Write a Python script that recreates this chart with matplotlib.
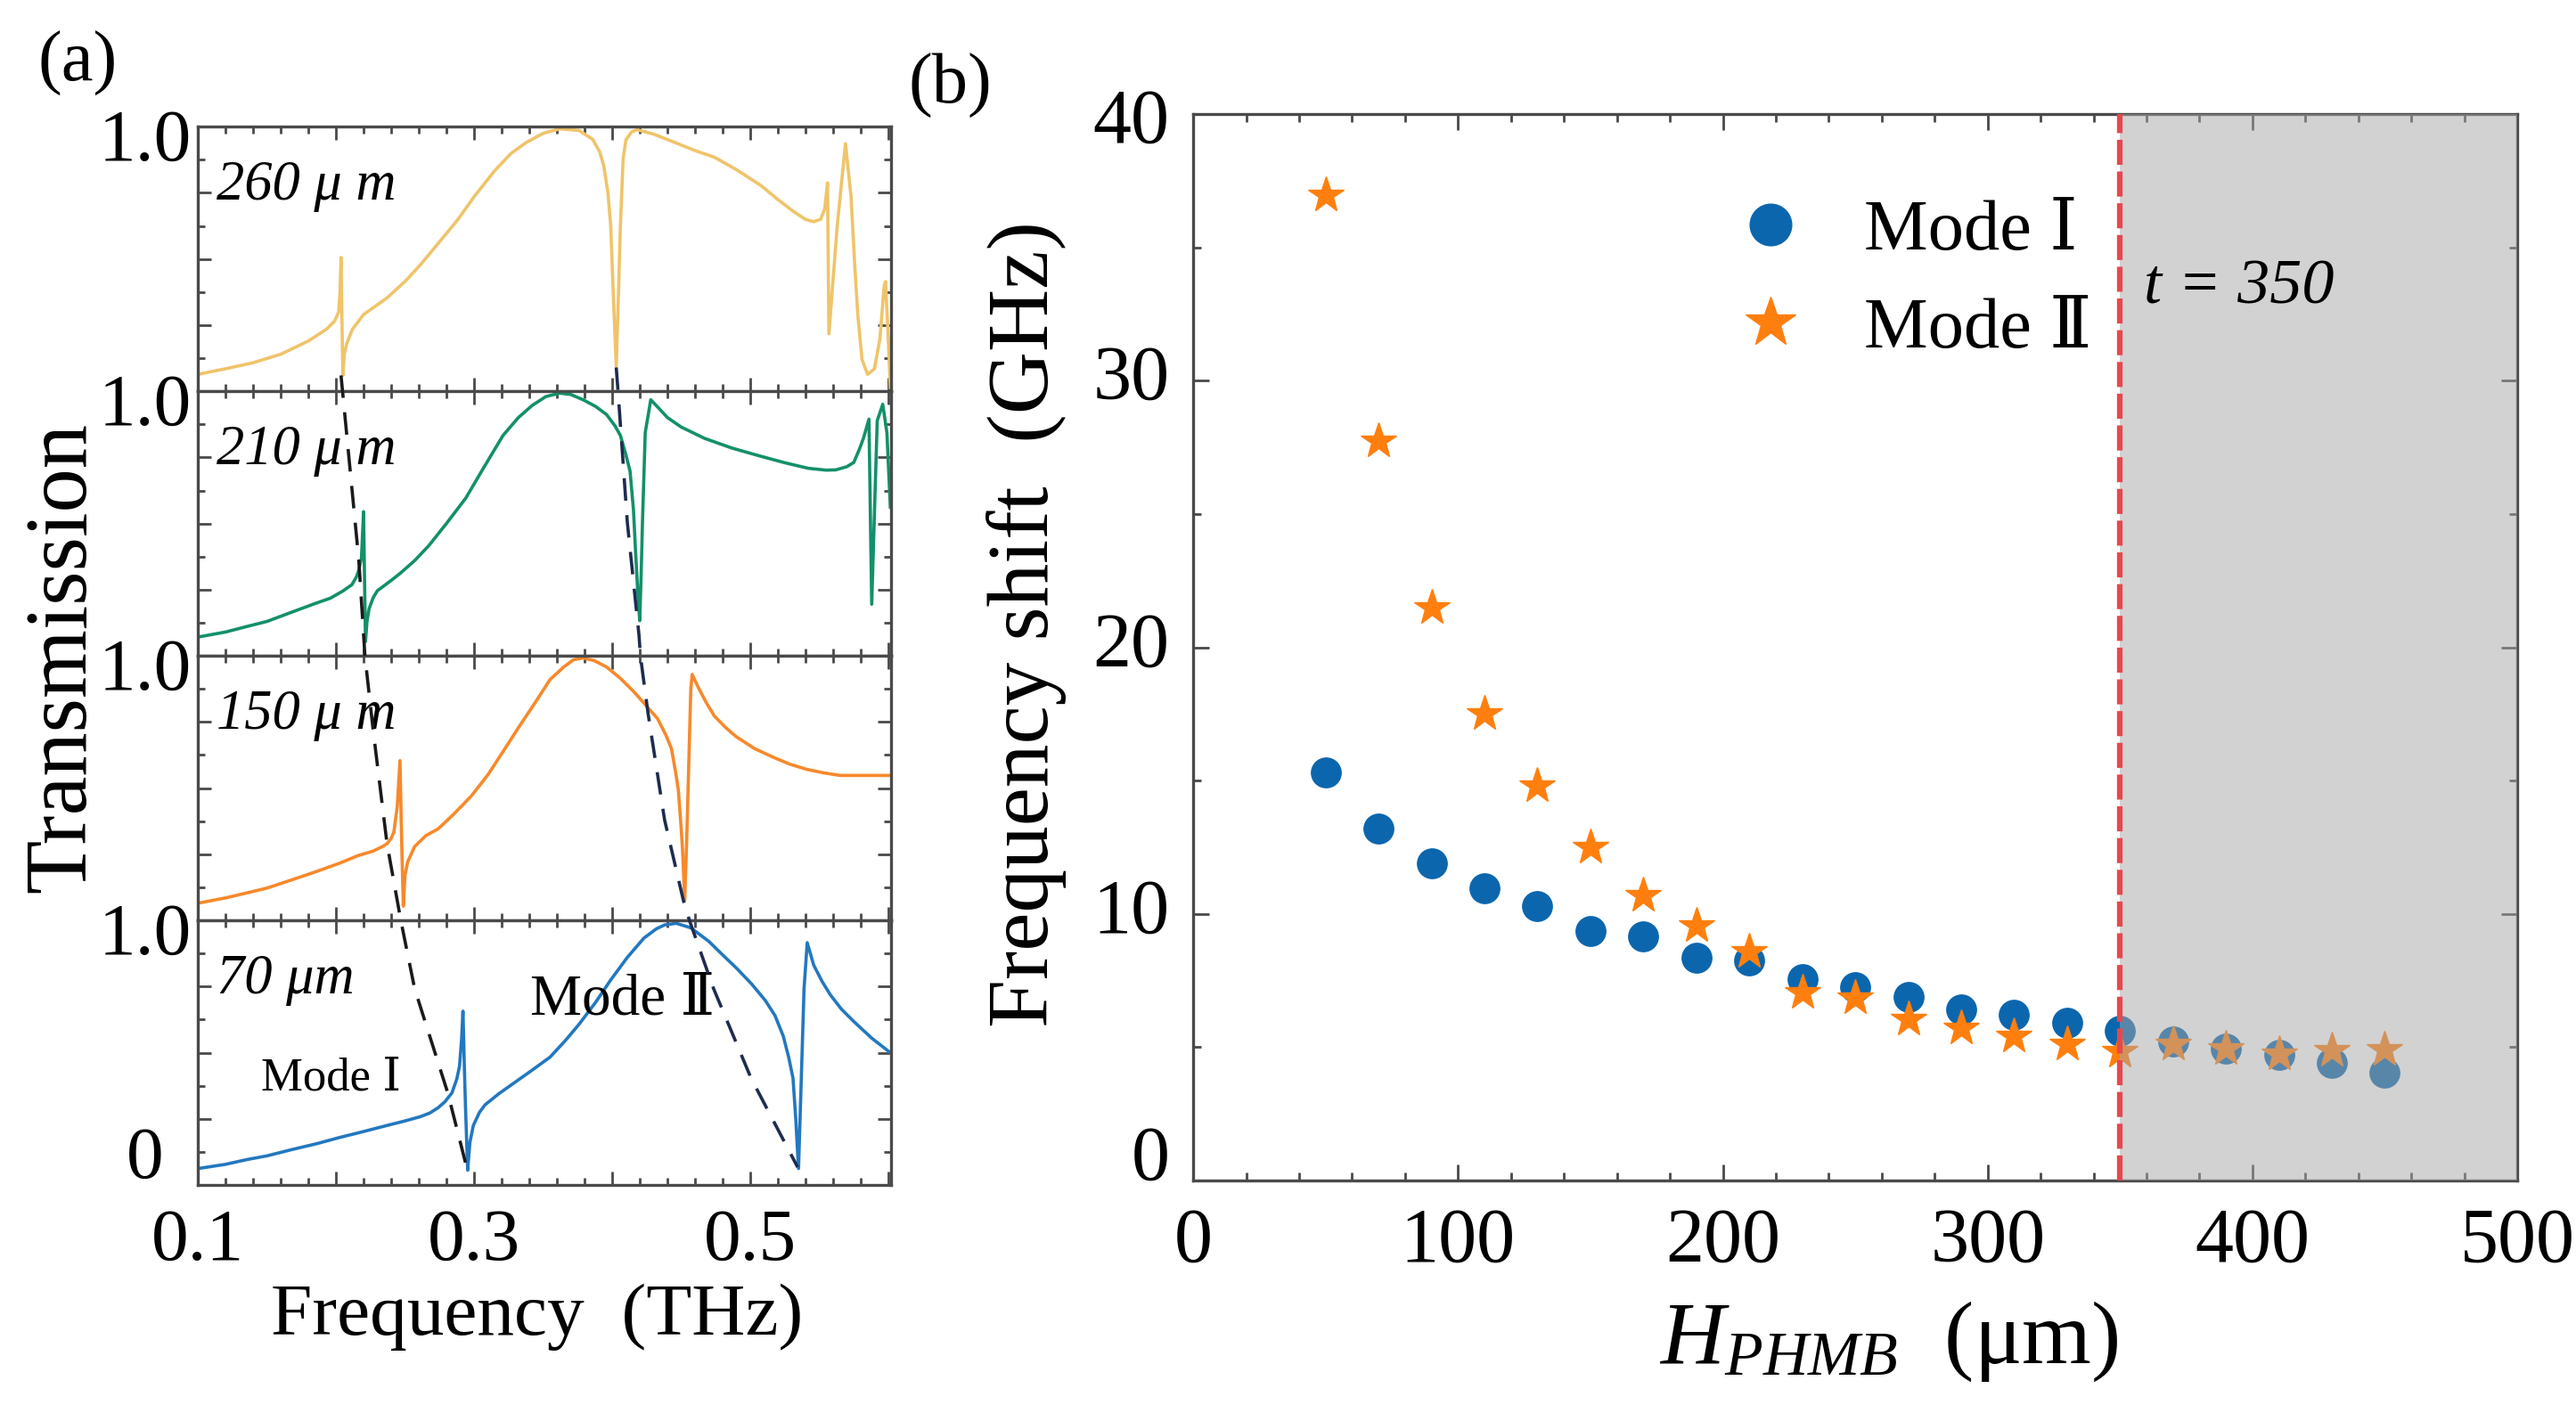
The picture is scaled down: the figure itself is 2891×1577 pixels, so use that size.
import matplotlib
matplotlib.use('Agg')
import matplotlib.pyplot as plt
from matplotlib.ticker import MultipleLocator

plt.rcParams['font.family'] = ['Liberation Serif', 'DejaVu Serif', 'Noto Sans CJK SC']
plt.rcParams['mathtext.fontset'] = 'custom'
plt.rcParams['mathtext.rm'] = 'Liberation Serif'
plt.rcParams['mathtext.it'] = 'Liberation Serif:italic'

# ---- panel (a): transmission spectra ----
f_260 = [0.100, 0.120, 0.140, 0.160, 0.180, 0.193, 0.199, 0.2020, 0.2030, 0.2037, 0.2043, 0.2050,
         0.2060, 0.2080, 0.2120, 0.2200, 0.2370, 0.2500, 0.2610, 0.2750, 0.2880, 0.3000, 0.3150,
         0.3270, 0.3380, 0.3500, 0.3620, 0.3760, 0.3860, 0.3910, 0.3940, 0.3970, 0.3990, 0.4010,
         0.4030, 0.4045, 0.4060, 0.4080, 0.4100, 0.4140, 0.4180, 0.4300, 0.4400, 0.4600, 0.4740,
         0.4900, 0.5080, 0.5200, 0.5310, 0.5400, 0.5460, 0.5510, 0.5540, 0.5560, 0.5570, 0.5630,
         0.5690, 0.5730, 0.5760, 0.5780, 0.5810, 0.5850, 0.5900, 0.5940, 0.5970, 0.5980, 0.6000,
         0.6015]
T_260 = [0.064, 0.085, 0.108, 0.140, 0.190, 0.234, 0.265, 0.300, 0.380, 0.506, 0.300, 0.059,
         0.140, 0.183, 0.235, 0.290, 0.353, 0.415, 0.477, 0.565, 0.647, 0.735, 0.834,
         0.900, 0.941, 0.975, 0.992, 0.986, 0.952, 0.905, 0.851, 0.750, 0.624, 0.350,
         0.093, 0.350, 0.624, 0.880, 0.950, 0.980, 0.989, 0.972, 0.952, 0.910, 0.885,
         0.838, 0.777, 0.725, 0.681, 0.650, 0.641, 0.650, 0.690, 0.788, 0.217, 0.624,
         0.936, 0.738, 0.450, 0.285, 0.120, 0.064, 0.085, 0.200, 0.398, 0.415, 0.200,
         0.014]

f_210 = [0.100, 0.120, 0.1355, 0.150, 0.169, 0.185, 0.196, 0.205, 0.2116, 0.2150, 0.2166, 0.2185,
         0.2200, 0.2207, 0.2214, 0.2225, 0.2240, 0.2270, 0.2300, 0.2400, 0.2470, 0.2570, 0.2670,
         0.2800, 0.2940, 0.3080, 0.3210, 0.3320, 0.3420, 0.3520, 0.3620, 0.3700, 0.3790, 0.3880,
         0.3960, 0.4020, 0.4060, 0.4100, 0.4130, 0.4155, 0.4170, 0.4185, 0.4200, 0.4210, 0.4220,
         0.4240, 0.4280, 0.4340, 0.4400, 0.4500, 0.4670, 0.4870, 0.5080, 0.5250, 0.5420, 0.5550,
         0.5620, 0.5700, 0.5750, 0.5790, 0.5820, 0.5860, 0.5880, 0.5920, 0.5960, 0.5990, 0.6015]
T_210 = [0.071, 0.090, 0.111, 0.130, 0.167, 0.198, 0.218, 0.245, 0.269, 0.300, 0.325, 0.370,
         0.545, 0.300, 0.054, 0.130, 0.178, 0.220, 0.246, 0.285, 0.314, 0.360, 0.415,
         0.500, 0.596, 0.720, 0.833, 0.900, 0.946, 0.980, 0.993, 0.988, 0.968, 0.943,
         0.912, 0.870, 0.833, 0.760, 0.698, 0.550, 0.393, 0.250, 0.133, 0.300, 0.506,
         0.844, 0.968, 0.935, 0.901, 0.865, 0.822, 0.785, 0.754, 0.730, 0.709, 0.702,
         0.703, 0.715, 0.731, 0.780, 0.822, 0.895, 0.195, 0.889, 0.951, 0.844, 0.562]

f_150 = [0.100, 0.120, 0.1355, 0.150, 0.169, 0.186, 0.203, 0.216, 0.227, 0.234, 0.237, 0.2400,
         0.2420, 0.2444, 0.2464, 0.2476, 0.2488, 0.2500, 0.2520, 0.2570, 0.2650, 0.2740, 0.2850,
         0.2980, 0.3100, 0.3210, 0.3330, 0.3450, 0.3550, 0.3650, 0.3720, 0.3790, 0.3870, 0.3960,
         0.4060, 0.4160, 0.4250, 0.4330, 0.4390, 0.4430, 0.4460, 0.4480, 0.4500, 0.4510, 0.4526,
         0.4540, 0.4550, 0.4570, 0.4580, 0.4620, 0.4680, 0.4740, 0.4820, 0.4900, 0.5030, 0.5170,
         0.5290, 0.5410, 0.5530, 0.5650, 0.5800, 0.6015]
T_150 = [0.065, 0.085, 0.104, 0.122, 0.155, 0.185, 0.217, 0.245, 0.262, 0.280, 0.290, 0.310,
         0.335, 0.430, 0.604, 0.300, 0.054, 0.170, 0.222, 0.279, 0.320, 0.346, 0.400,
         0.470, 0.550, 0.638, 0.735, 0.829, 0.910, 0.958, 0.985, 0.992, 0.982, 0.958,
         0.915, 0.863, 0.810, 0.762, 0.700, 0.649, 0.560, 0.492, 0.350, 0.267, 0.076,
         0.300, 0.492, 0.874, 0.930, 0.885, 0.825, 0.773, 0.730, 0.694, 0.650, 0.616,
         0.590, 0.571, 0.558, 0.548, 0.548, 0.548]

f_70 = [0.100, 0.120, 0.1355, 0.150, 0.169, 0.186, 0.203, 0.220, 0.237, 0.250, 0.261, 0.268,
        0.274, 0.279, 0.284, 0.2875, 0.2895, 0.2910, 0.2920, 0.2930, 0.2938, 0.2954, 0.2970,
        0.2995, 0.3040, 0.3080, 0.3180, 0.3280, 0.3410, 0.3550, 0.3660, 0.3760, 0.3880, 0.3990,
        0.4110, 0.4230, 0.4320, 0.4380, 0.4465, 0.4570, 0.4700, 0.4800, 0.4900, 0.5010, 0.5110,
        0.5180, 0.5240, 0.5280, 0.5310, 0.5330, 0.5350, 0.5370, 0.5390, 0.5413, 0.5460, 0.5520,
        0.5580, 0.5660, 0.5750, 0.5880, 0.6015]
T_70 = [0.062, 0.078, 0.096, 0.110, 0.135, 0.156, 0.180, 0.202, 0.225, 0.242, 0.258, 0.272,
        0.292, 0.315, 0.348, 0.400, 0.449, 0.550, 0.657, 0.450, 0.300, 0.056, 0.160,
        0.225, 0.275, 0.303, 0.345, 0.382, 0.430, 0.483, 0.545, 0.607, 0.690, 0.775,
        0.860, 0.933, 0.968, 0.983, 0.989, 0.972, 0.921, 0.870, 0.820, 0.760, 0.697,
        0.640, 0.562, 0.480, 0.404, 0.250, 0.062, 0.400, 0.742, 0.916, 0.831, 0.770,
        0.719, 0.665, 0.618, 0.555, 0.500]

# guide lines through the resonances, y in stacked units (bottom panel = 0..1, top = 3..4)
mode1_f = [0.2037, 0.2048, 0.2166, 0.2210, 0.2270, 0.2370, 0.2470, 0.2570, 0.2810, 0.2950]
mode1_y = [3.06, 3.00, 2.36, 2.00, 1.717, 1.29, 1.00, 0.742, 0.348, 0.06]
mode2_f = [0.4030, 0.4043, 0.4110, 0.4195, 0.4205, 0.4260, 0.4380, 0.4516, 0.4560, 0.4735, 0.5006, 0.5344]
mode2_y = [3.09, 3.00, 2.506, 2.077, 2.00, 1.784, 1.38, 1.076, 1.00, 0.742, 0.404, 0.067]

size_labels = ['260 μ m', '210 μ m', '150 μ m', '70 μm']
curve_colors = ['#efc46a', '#13906a', '#f7892b', '#2378bf']

# ---- panel (b): frequency shift vs H_PHMB ----
H = [50, 70, 90, 110, 130, 150, 170, 190, 210, 230, 250, 270, 290, 310, 330, 350, 370, 390, 410, 430, 450]
shift_mode1 = [15.3, 13.2, 11.9, 10.95, 10.3, 9.35, 9.15, 8.35, 8.25, 7.55, 7.25, 6.9, 6.4, 6.2, 5.9,
               5.6, 5.2, 4.95, 4.7, 4.4, 4.05]
shift_mode2 = [36.95, 27.75, 21.5, 17.5, 14.8, 12.5, 10.7, 9.55, 8.6, 7.05, 6.85, 6.05, 5.7, 5.4, 5.12,
               4.85, 5.1, 4.95, 4.75, 4.87, 4.9]

spine_col = '#4a4a4a'
tick_fs = 60
fig = plt.figure(figsize=(28.91, 15.77), dpi=100)

a_left, a_w, a_bot, a_h = 0.0768, 0.2691, 0.1566, 0.1883
curves = [(f_260, T_260), (f_210, T_210), (f_150, T_150), (f_70, T_70)]
for i, (f, T) in enumerate(curves):
    ax = fig.add_axes([a_left, a_bot + (3 - i) * a_h, a_w, a_h])
    ax.plot(f, T, color=curve_colors[i], lw=2.6)
    ax.set_xlim(0.1, 0.602)
    ax.set_ylim(0, 1)
    ax.set_xticks([0.1, 0.2, 0.3, 0.4, 0.5, 0.6])
    ax.xaxis.set_minor_locator(MultipleLocator(0.02))
    ax.set_yticks([0, 0.25, 0.5, 0.75, 1.0])
    ax.yaxis.set_minor_locator(MultipleLocator(0.125))
    ax.set_yticklabels([])
    if i == 3:
        ax.set_xticklabels(['0.1', '', '0.3', '', '0.5', ''])
    else:
        ax.set_xticklabels([])
    ax.tick_params(which='both', direction='in', top=True, right=True, width=2, color=spine_col,
                   labelsize=tick_fs, pad=19)
    ax.tick_params(which='major', length=11)
    ax.tick_params(which='minor', length=5.5)
    for s in ax.spines.values():
        s.set_color(spine_col)
        s.set_linewidth(2.4)
    ax.annotate('1.0', xy=(0, 1.0), xycoords=ax.get_yaxis_transform(), xytext=(-43, -13),
                textcoords='offset points', ha='center', va='center', fontsize=tick_fs)
    if i == 3:
        ax.annotate('0', xy=(0, 0.0), xycoords=ax.get_yaxis_transform(), xytext=(-43, 20),
                    textcoords='offset points', ha='center', va='center', fontsize=tick_fs)
    ax.text(0.027, 0.725, size_labels[i], transform=ax.transAxes, fontsize=45,
            style='italic', va='baseline', ha='left')
    if i == 3:
        ax.text(0.091, 0.36, 'Mode Ⅰ', transform=ax.transAxes, fontsize=38, va='baseline')
        ax.text(0.48, 0.646, 'Mode Ⅱ', transform=ax.transAxes, fontsize=47, va='baseline')

ov = fig.add_axes([a_left, a_bot, a_w, 4 * a_h], zorder=5)
ov.set_xlim(0.1, 0.602)
ov.set_ylim(0, 4)
ov.axis('off')
ov.patch.set_visible(False)
ov.plot(mode1_f, mode1_y, color='#1a1a1a', lw=2.6, ls=(0, (7, 4.5)))
ov.plot(mode2_f, mode2_y, color='#1d2c4f', lw=2.6, ls=(0, (7, 4.5)))

fig.text(0.030, 0.955, '(a)', fontsize=58, ha='center', va='center')
fig.text(0.0245, 0.532, 'Transmission', fontsize=71, rotation=90, ha='center', va='center')
fig.text(0.2086, 0.050, 'Frequency  (THz)', fontsize=60, ha='center', va='baseline')

# ---- panel (b) ----
axb = fig.add_axes([0.4632, 0.1598, 0.5140, 0.7590])
axb.plot(H, shift_mode1, 'o', ms=24, color='#0b66ae', ls='none', label='Mode Ⅰ', zorder=2)
axb.plot(H, shift_mode2, '*', ms=30, color='#ff7f0e', ls='none', label='Mode Ⅱ', zorder=2)
axb.axvspan(350, 500, color='#a6a6a6', alpha=0.5, lw=0, zorder=3)
axb.axvline(350, color='#e8474c', lw=4.5, ls=(0, (4.5, 1.2)), zorder=4)
axb.set_xlim(0, 500)
axb.set_ylim(0, 40)
axb.set_xticks([0, 100, 200, 300, 400, 500])
axb.xaxis.set_minor_locator(MultipleLocator(20))
axb.set_yticks([0, 10, 20, 30, 40])
axb.yaxis.set_minor_locator(MultipleLocator(5))
axb.set_yticklabels([])
axb.tick_params(which='both', direction='in', top=True, right=True, width=2, color=spine_col,
                labelsize=62)
axb.tick_params(axis='x', pad=22)
axb.tick_params(which='major', length=13)
axb.tick_params(which='minor', length=6.5)
for s in axb.spines.values():
    s.set_color(spine_col)
    s.set_linewidth(2.4)
for v in [0, 10, 20, 30, 40]:
    dy = 16 if v == 0 else (-8 if v == 40 else 0)
    axb.annotate(str(v), xy=(0, v), xycoords=axb.get_yaxis_transform(), xytext=(-19, dy),
                 textcoords='offset points', ha='right', va='center', fontsize=62)
axb.text(359, 32.9, 't = 350', fontsize=52, style='italic', va='baseline')
axb.legend(loc='upper left', bbox_to_anchor=(0.36, 0.947), frameon=False, fontsize=58,
           markerscale=1.4, handletextpad=0.3, labelspacing=0.45, borderaxespad=0)

fig.text(0.369, 0.939, '(b)', fontsize=58, ha='center', va='center')
fig.text(0.3986, 0.556, 'Frequency shift  (GHz)', fontsize=70, rotation=90, ha='center', va='center')
fig.text(0.7333, 0.03, r'$H_{PHMB}$  (μm)', fontsize=72, ha='center', va='baseline')

fig.savefig('out.png', dpi=100)
